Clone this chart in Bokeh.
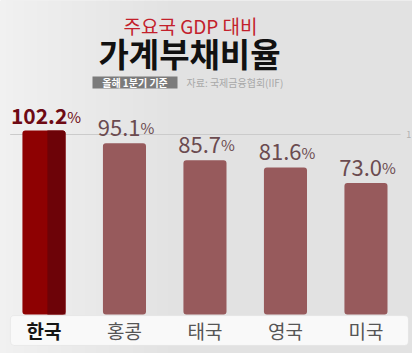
from bokeh.plotting import figure
from bokeh.models import ColumnDataSource, Label, BoxAnnotation, Range1d
from bokeh.transform import dodge
from bokeh.core.properties import value
from bokeh.embed import file_html
from bokeh.resources import INLINE

countries = ["한국", "홍콩", "태국", "영국", "미국"]
ratios = [102.2, 95.1, 85.7, 81.6, 73.0]
value_labels = ["102.2", "95.1", "85.7", "81.6", "73.0"]
title_top = "주요국 GDP 대비"
title_main = "가계부채비율"
basis = "올해 1분기 기준"
source_note = "자료: 국제금융협회(IIF)"
grid_value = 100

FONT = "Noto Sans CJK KR"
W, H = 412, 353

idx = list(range(len(countries)))
src_hi = ColumnDataSource(dict(x=idx[:1], y=ratios[:1], lab=value_labels[:1], cat=countries[:1]))
src_rest = ColumnDataSource(dict(x=idx[1:], y=ratios[1:], lab=value_labels[1:], cat=countries[1:]))

p = figure(width=W, height=H, output_backend="svg", toolbar_location=None,
           x_range=Range1d(-0.540, 4.578), y_range=Range1d(-21.67, 174.44),
           min_border=0, outline_line_color=None, background_fill_color="#e4e4e4",
           border_fill_color="#e4e4e4")
p.axis.visible = False
p.grid.visible = False

# background gradient (lighter on left)
n = 30
for i in range(n):
    t = i / (n - 1)
    c = int(0xf1 + (0xe2 - 0xf1) * t)
    col = "#%02x%02x%02x" % (c, c, c)
    p.add_layout(BoxAnnotation(left=i * 6, right=i * 6 + 7, left_units="screen", right_units="screen",
                               fill_color=col, fill_alpha=1, line_color=None, level="underlay"))
p.add_layout(BoxAnnotation(left=180, right=W, left_units="screen", right_units="screen",
                           fill_color="#e2e2e2", fill_alpha=1, line_color=None, level="underlay"))

# category panel (under the glyphs)
p.add_layout(BoxAnnotation(left=-0.416, right=4.528, top=-0.6, bottom=-17.2, fill_color="#f9f9f9",
                           fill_alpha=1, line_color="#d2d2d2", line_width=1, border_radius=4,
                           level="underlay"))

# gridline at 100
p.segment(x0=[-0.42], x1=[4.43], y0=[grid_value], y1=[grid_value], line_color="#cbcbcb", line_width=1)
p.text(x=[4.5], y=[grid_value], text=["1"], text_font=value(FONT), text_font_size="9px",
       text_color="#b0b0b0", text_baseline="middle", text_align="left")

# bars
p.vbar(x="x", top="y", bottom=0, width=0.535, source=src_rest, fill_color="#975a5c",
       line_color=None, border_radius=3)
p.vbar(x="x", top="y", bottom=0, width=0.535, source=src_hi, fill_color="#8e0102",
       line_color=None, border_radius=3)
p.vbar(x=dodge("x", 0.155, range=p.x_range), top="y", bottom=0, width=0.225, source=src_hi,
       fill_color="#6d0308", line_color=None, border_radius=[0, 3, 0, 0])

# value labels
ylab_rest = dodge("y", 8.6, range=p.y_range)
ylab_hi = dodge("y", 8.0, range=p.y_range)
p.text(x=dodge("x", 0.20, range=p.x_range), y=ylab_rest, text="lab", source=src_rest,
       text_align="right", text_baseline="alphabetic", text_font=value(FONT),
       text_font_size="22px", text_color="#6b4b50")
p.text(x=dodge("x", 0.20, range=p.x_range), y=ylab_rest, text=value("%"), source=src_rest,
       text_align="left", text_baseline="alphabetic", text_font=value(FONT),
       text_font_size="15px", text_color="#6b4b50")
p.text(x=dodge("x", 0.29, range=p.x_range), y=ylab_hi, text="lab", source=src_hi,
       text_align="right", text_baseline="alphabetic", text_font=value(FONT),
       text_font_size="21px", text_font_style="bold", text_color="#6e0a14")
p.text(x=dodge("x", 0.29, range=p.x_range), y=ylab_hi, text=value("%"), source=src_hi,
       text_align="left", text_baseline="alphabetic", text_font=value(FONT),
       text_font_size="15px", text_color="#6e0a14")

# category labels
p.text(x="x", y=-8.9, text="cat", source=src_hi, text_align="center", text_baseline="middle",
       text_font=value(FONT), text_font_size="19px", text_font_style="bold", text_color="#151515")
p.text(x="x", y=-8.9, text="cat", source=src_rest, text_align="center", text_baseline="middle",
       text_font=value(FONT), text_font_size="19px", text_color="#555555")

# titles
p.add_layout(Label(x=190, y=H - 25, x_units="screen", y_units="screen", text=title_top,
                   text_font=FONT, text_font_size="19px", text_color="#c3202b",
                   text_align="center", text_baseline="middle"))
p.add_layout(Label(x=189, y=H - 52, x_units="screen", y_units="screen", text=title_main,
                   text_font=FONT, text_font_size="33px", text_font_style="bold", text_color="#111111",
                   text_align="center", text_baseline="middle"))
p.add_layout(BoxAnnotation(left=92, right=177, top=H - 76, bottom=H - 88, left_units="screen",
                           right_units="screen", top_units="screen", bottom_units="screen",
                           fill_color="#7b7b7b", fill_alpha=1, line_color=None))
p.add_layout(Label(x=134.5, y=H - 82, x_units="screen", y_units="screen", text=basis,
                   text_font=FONT, text_font_size="10px", text_font_style="bold", text_color="#ffffff",
                   text_align="center", text_baseline="middle"))
p.add_layout(Label(x=186, y=H - 82, x_units="screen", y_units="screen", text=source_note,
                   text_font=FONT, text_font_size="10px", text_color="#a8a8a8",
                   text_align="left", text_baseline="middle"))

open("out.html", "w").write(file_html(p, INLINE))
